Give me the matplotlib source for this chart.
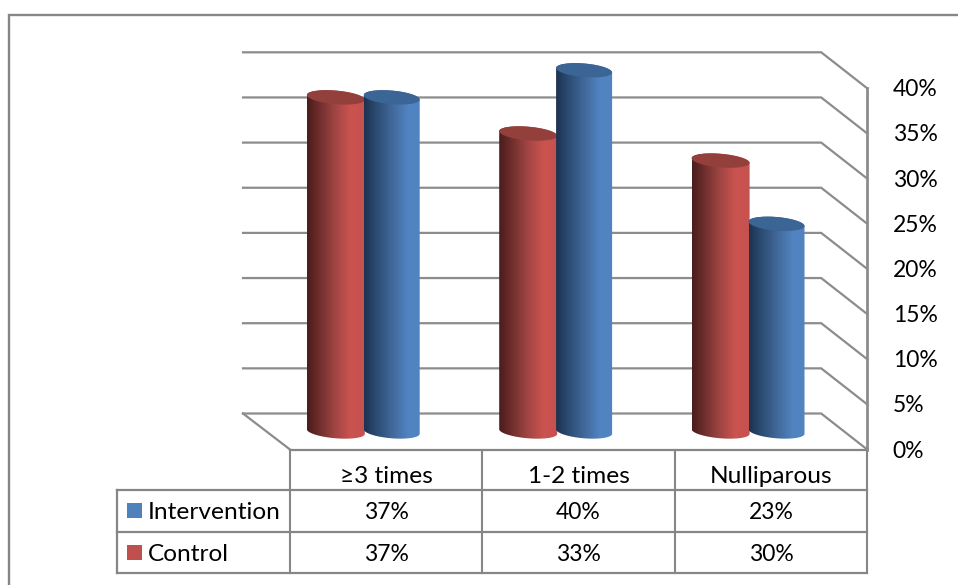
import numpy as np
import matplotlib
matplotlib.use("Agg")
import matplotlib.pyplot as plt
from matplotlib.colors import LinearSegmentedColormap
from matplotlib.patches import PathPatch, Rectangle
from matplotlib.path import Path

categories = ["≥3 times", "1-2 times", "Nulliparous"]
series_names = ["Control", "Intervention"]
control = [37, 33, 30]
intervention = [37, 40, 23]
control_labels = ["37%", "33%", "30%"]
intervention_labels = ["37%", "40%", "23%"]
axis_ticks = [0, 5, 10, 15, 20, 25, 30, 35, 40]

W, H = 958, 585
PX_PER_PCT = 9.03      # vertical pixels for one percentage point
PX_PER_CAT = 192.4     # horizontal pixels for one category
X0_PX, Y0_PX = 290.0, 449.5   # front-left floor corner

fig = plt.figure(figsize=(W / 100, H / 100), dpi=100)
ax = fig.add_axes([0, 0, 1, 1])
ax.set_xlim(-X0_PX / PX_PER_CAT, (W - X0_PX) / PX_PER_CAT)
ax.set_ylim((Y0_PX - H) / PX_PER_PCT, Y0_PX / PX_PER_PCT)
ax.axis("off")

plt.rcParams["font.family"] = ["Lato", "DejaVu Sans"]


def dx(px):
    return px / PX_PER_CAT


def dy(px):
    return px / PX_PER_PCT


GRID = "#8c8c8c"
FRAME = "#868686"
TXT = "#000000"
FS_NUM = 16.5    # percentages
FS_WORD = 17.6   # category and series names

# Depth of the 3-D box, in pixels
DEPTH_X, DEPTH_Y = 46, 36
n = len(categories)

# Back wall and side wall rules
for t in axis_ticks:
    y_back = t + dy(DEPTH_Y)
    x_l = dx(-DEPTH_X - 1)
    x_r = n + dx(-DEPTH_X)
    ax.plot([x_l, x_r, n], [y_back, y_back, t], color=GRID, lw=1.6,
            solid_joinstyle="miter", zorder=1)
ax.plot([dx(-DEPTH_X - 1), 0], [dy(DEPTH_Y), 0], color=GRID, lw=1.6, zorder=1)
ax.plot([n, n], [0, axis_ticks[-1]], color=GRID, lw=2.0, zorder=1)

# Right-hand value axis
for t in axis_ticks:
    ax.text(n + dx(25.5), t - dy(8), f"{t}%", fontsize=FS_NUM, color=TXT,
            ha="left", va="baseline", zorder=6)

RED_MAP = LinearSegmentedColormap.from_list(
    "red_cyl", [(0, "#4a1d1c"), (0.12, "#5e2625"), (0.45, "#9a4341"),
                (0.75, "#cb5350"), (1, "#c6514e")])
BLUE_MAP = LinearSegmentedColormap.from_list(
    "blue_cyl", [(0, "#1c324e"), (0.15, "#274468"), (0.5, "#41699b"),
                 (0.78, "#5184c2"), (1, "#5083bf")])
RED_TOP = "#93403d"
BLUE_TOP = "#3b6595"

CYL_RY = 6.8        # pixels
CYL_TILT = 0.08     # slope of the elliptical caps
BASE_LIFT = 18      # cylinder base above the front floor edge, pixels
gradient = np.linspace(0, 1, 256).reshape(1, -1)


def cap_points(xc, yc, half_w, start, stop, count=80):
    t = np.linspace(start, stop, count)
    px = half_w * np.cos(t)
    py = CYL_RY * np.sin(t) - CYL_TILT * px
    return xc + dx(px), yc + dy(py)


def cylinder(xc, value, half_w, cmap, top_color, z):
    base = dy(BASE_LIFT)
    top = base + value
    bx, by = cap_points(xc, base, half_w, np.pi, 2 * np.pi)
    tx, ty = cap_points(xc, top, half_w, 0, np.pi)
    outline = np.column_stack([np.r_[bx, tx], np.r_[by, ty]])
    codes = [Path.MOVETO] + [Path.LINETO] * (len(outline) - 1)
    body = PathPatch(Path(outline, codes), fc="none", ec="none", zorder=z)
    ax.add_patch(body)
    im = ax.imshow(gradient, cmap=cmap, aspect="auto", zorder=z,
                   extent=[xc - dx(half_w), xc + dx(half_w),
                           base - dy(10), top + dy(10)])
    im.set_clip_path(body)
    cx, cy = cap_points(xc, top, half_w, 0, 2 * np.pi)
    ax.fill(cx, cy, color=top_color, lw=0, zorder=z + 0.5)


# Bar centres relative to each category's left edge, in pixels
RED_OFFSET = 45.8
BLUE_OFFSET = 101.7
for i in range(n):
    cylinder(i + dx(RED_OFFSET), control[i], 29.0, RED_MAP, RED_TOP, 3)
    cylinder(i + dx(BLUE_OFFSET), intervention[i], 28.0, BLUE_MAP, BLUE_TOP, 4)

ax.set_xlim(-X0_PX / PX_PER_CAT, (W - X0_PX) / PX_PER_CAT)
ax.set_ylim((Y0_PX - H) / PX_PER_PCT, Y0_PX / PX_PER_PCT)

# Data table under the plot
ROW_LINES = [0, -40.5, -82, -123.5]   # pixels below the floor edge
LEGEND_LEFT = -173
for r in ROW_LINES:
    left = 0 if r == 0 else dx(LEGEND_LEFT)
    ax.plot([left, n], [dy(r), dy(r)], color=FRAME, lw=1.6, zorder=2,
            solid_capstyle="projecting")
for c in range(n + 1):
    ax.plot([c, c], [0, dy(ROW_LINES[-1])], color=FRAME, lw=1.5, zorder=2)
ax.plot([dx(LEGEND_LEFT)] * 2, [dy(ROW_LINES[1]), dy(ROW_LINES[-1])],
        color=FRAME, lw=1.6, zorder=2)

for i, name in enumerate(categories):
    ax.text(i + 0.5, dy(-33.5), name, fontsize=FS_WORD, color=TXT,
            ha="center", va="baseline")
rows = [(series_names[1], intervention_labels, "#4f81bd", -69.5),
        (series_names[0], control_labels, "#c0504d", -111.5)]
for name, labels, color, base_px in rows:
    for i, lab in enumerate(labels):
        ax.text(i + 0.5, dy(base_px), lab, fontsize=FS_NUM, color=TXT,
                ha="center", va="baseline")
    ax.add_patch(Rectangle((dx(-163), dy(base_px + 1)), dx(15), dy(15),
                           fc=color, ec="none", zorder=3))
    ax.text(dx(-142), dy(base_px), name, fontsize=FS_WORD, color=TXT,
            ha="left", va="baseline")

# Outer chart frame
fx0 = dx(8.5 - X0_PX)
fy_top = dy(Y0_PX - 15)
ax.plot([fx0, fx0, dx(W - X0_PX)], [dy(Y0_PX - H), fy_top, fy_top],
        color=FRAME, lw=1.7, zorder=1, solid_joinstyle="miter")

fig.savefig("out.png", dpi=100, facecolor="white")
